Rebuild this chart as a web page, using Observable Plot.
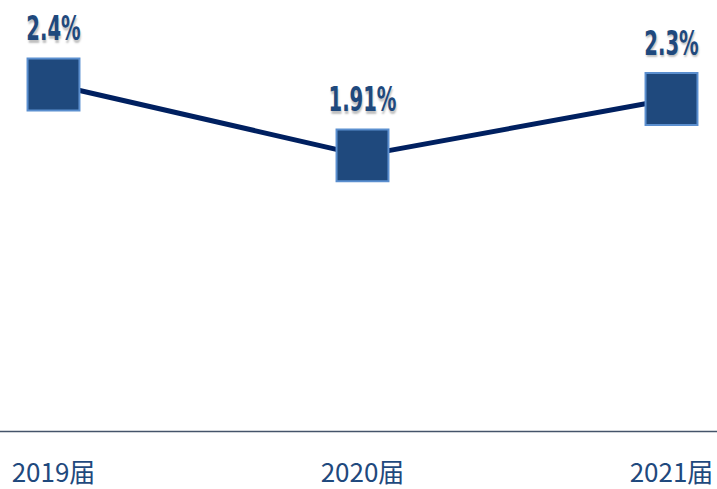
<!DOCTYPE html>
<html><head><meta charset="utf-8">
<script src="https://cdn.jsdelivr.net/npm/d3@7"></script>
<script src="https://cdn.jsdelivr.net/npm/@observablehq/plot@0.6"></script>
<style>
body{margin:0;background:#fff;}
.lbl text{ text-shadow: 1px 2px 2px rgba(0,0,0,0.25); }
</style>
</head><body><div id="chart"></div>
<script>
const years = ["2019届", "2020届", "2021届"];
const rates = [2.4, 1.91, 2.3];
const labels = ["2.4%", "1.91%", "2.3%"];
const data = years.map((y, i) => ({year: y, rate: rates[i], label: labels[i]}));

const chart = Plot.plot({
  width: 717,
  height: 489,
  marginLeft: 53,
  marginRight: 46,
  marginTop: 84,
  marginBottom: 58,
  style: {background: "#fff", overflow: "visible"},
  x: {type: "point", domain: years, padding: 0, label: null},
  y: {domain: [0, 2.4], axis: null},
  marks: [
    Plot.ruleY([0], {stroke: "#44546a", strokeWidth: 1.5, insetLeft: -53, insetRight: -46}),
    Plot.axisX({tickSize: 0, tickPadding: 32, fontSize: 26, fill: "#1f497d", color: "#1f497d",
      fontFamily: "'Noto Sans CJK SC', sans-serif", label: null}),
    Plot.line(data, {x: "year", y: "rate", stroke: "#002060", strokeWidth: 5}),
    Plot.dot(data, {x: "year", y: "rate", symbol: "square", r: 29.3, fill: "#1f497d", stroke: "#5b8fcf", strokeWidth: 2}),
    Plot.text(data, {x: "year", y: "rate", text: "label", dy: -55, lineAnchor: "middle",
      fill: "#1f497d", fontSize: 34, fontWeight: "bold", className: "lbl",
      fontFamily: "'DejaVu Sans Condensed', 'DejaVu Sans', sans-serif"})
  ]
});
document.getElementById("chart").appendChild(chart);
chart.querySelectorAll(".lbl text").forEach(t => {
  const tr = t.getAttribute("transform") || "";
  t.setAttribute("transform", tr + " scale(0.64,1)");
});
</script>
</body></html>
